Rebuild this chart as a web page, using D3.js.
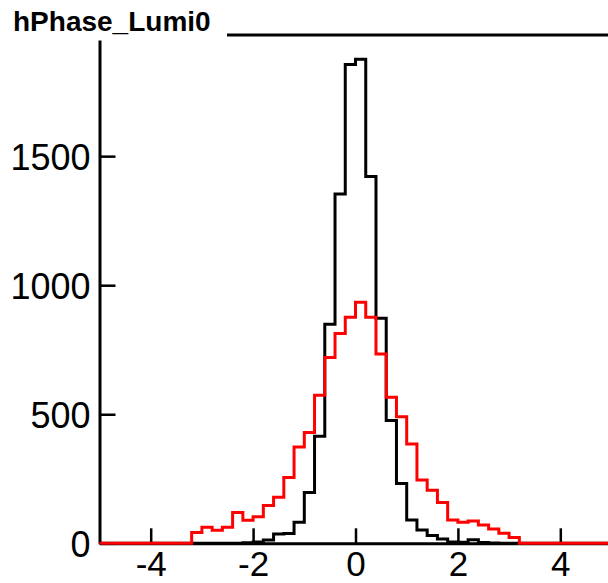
<!DOCTYPE html>
<html>
<head>
<meta charset="utf-8">
<title>hPhase_Lumi0</title>
<script src="https://d3js.org/d3.v7.min.js"></script>
<style>
  body { margin: 0; background: #fff; }
</style>
</head>
<body>
<div id="viz"></div>
<script>

// histogram binning: 50 bins of 0.2 from -5 to 5
var xMin = -5, xMax = 5, nBins = 50;
var binEdges = d3.range(nBins + 1).map(function(i) { return +(xMin + i * (xMax - xMin) / nBins).toFixed(2); });

// bin contents (left to right)
var blackCounts = [
  0, 0, 0, 0, 0, 0, 0, 0, 0,
  0, 0, 0, 0, 0, 2, 5, 13, 36, 38, 82, 197, 415, 849, 1353, 1855,
  1875, 1421, 872, 476, 232, 90, 52, 30, 17, 5, 4, 14, 3, 1, 0, 0,
  0, 0, 0, 0, 0, 0, 0, 0, 0
];
var redCounts = [
  0, 0, 0, 0, 0, 0, 0, 0, 0,
  42, 62, 51, 62, 119, 89, 103, 146, 178, 255, 373, 429, 574, 720, 813, 876,
  934, 876, 733, 566, 490, 385, 245, 206, 158, 90, 82, 86, 71, 55, 39, 22,
  0, 0, 0, 0, 0, 0, 0, 0, 0
];

var xTicks = [-4, -2, 0, 2, 4];
var yTicks = [0, 500, 1000, 1500];
var yMax = 1950;
var title = "hPhase_Lumi0";

var width = 608, height = 583;

var svg = d3.select("#viz")
  .append("svg")
    .attr("width", width)
    .attr("height", height);

var x = d3.scaleLinear()
  .domain([xMin, xMax])
  .range([99.5, 611.5]);

var y = d3.scaleLinear()
  .domain([0, yMax])
  .range([543.3, 40]);

// title and the line next to it
svg.append("text")
  .attr("x", 13)
  .attr("y", 31)
  .style("font-family", "'Liberation Sans', Arial, sans-serif")
  .style("font-weight", "bold")
  .style("font-size", "28px")
  .text(title);

svg.append("line")
  .attr("x1", 227).attr("x2", width)
  .attr("y1", 35).attr("y2", 35)
  .attr("stroke", "#000")
  .attr("stroke-width", 3);

// axes, ticks pointing inside the frame
var xAxis = svg.append("g")
  .attr("transform", "translate(0," + y(0) + ")")
  .call(d3.axisBottom(x)
    .tickValues(xTicks)
    .tickSizeInner(-15)
    .tickSizeOuter(0)
    .tickPadding(8)
    .tickFormat(function(d) { return String(d); }));

var yAxis = svg.append("g")
  .attr("transform", "translate(" + x(xMin) + ",0)")
  .call(d3.axisLeft(y)
    .tickValues(yTicks)
    .tickSizeInner(-16)
    .tickSizeOuter(0)
    .tickPadding(9)
    .tickFormat(function(d) { return String(d); }));

[xAxis, yAxis].forEach(function(g) {
  g.select(".domain").attr("stroke-width", 3);
  g.selectAll(".tick line").attr("stroke-width", 2.5);
  g.selectAll(".tick text")
    .attr("fill", "#000")
    .style("font-family", "'Liberation Sans', Arial, sans-serif")
    .style("font-size", "35px");
});
yAxis.selectAll(".tick text")
  .style("font-size", "36px")
  .attr("dy", "0.36em");

// step outline of a histogram
function histPoints(counts) {
  var pts = counts.map(function(c, i) { return [binEdges[i], c]; });
  pts.push([binEdges[counts.length], counts[counts.length - 1]]);
  return pts;
}

var step = d3.line()
  .x(function(d) { return x(d[0]); })
  .y(function(d) { return y(d[1]); })
  .curve(d3.curveStepAfter);

var series = [
  { name: "black", counts: blackCounts, color: "#000000" },
  { name: "red", counts: redCounts, color: "#ff0000" }
];

svg.selectAll("path.hist")
  .data(series)
  .enter()
  .append("path")
    .attr("class", "hist")
    .attr("d", function(d) { return step(histPoints(d.counts)); })
    .attr("fill", "none")
    .attr("stroke", function(d) { return d.color; })
    .attr("stroke-width", 3)
    .attr("stroke-linejoin", "miter");

</script>
</body>
</html>
